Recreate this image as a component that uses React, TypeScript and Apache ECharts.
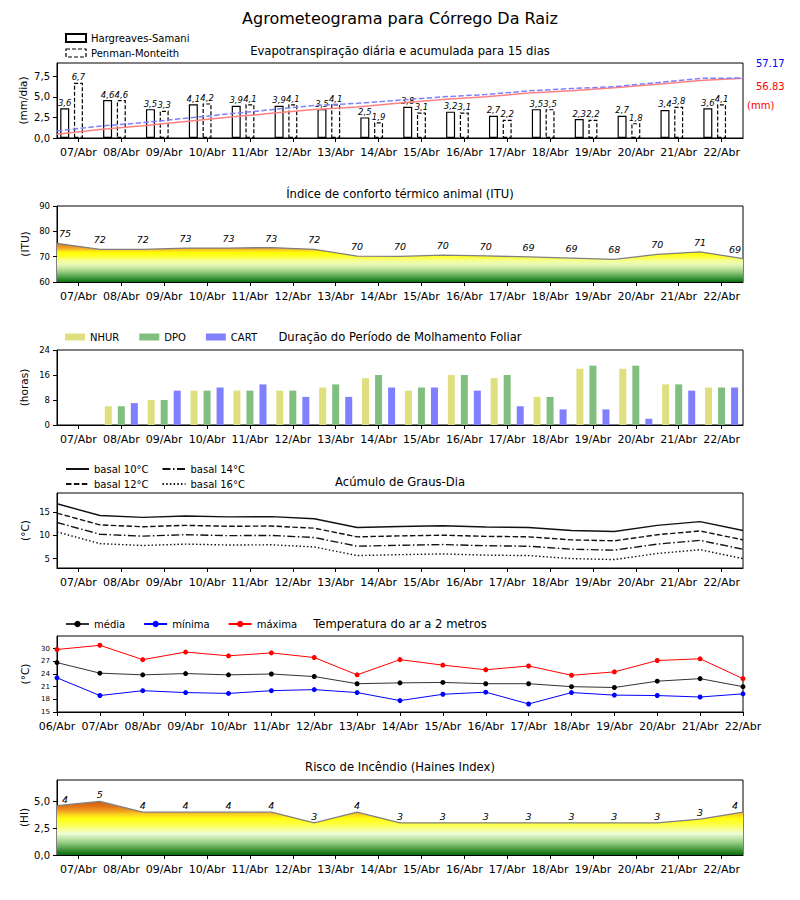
import React, { useEffect, useRef } from 'react';
import * as echarts from 'echarts';

// ---------- data ----------
const DAYS = ['07/Abr', '08/Abr', '09/Abr', '10/Abr', '11/Abr', '12/Abr', '13/Abr', '14/Abr', '15/Abr', '16/Abr', '17/Abr', '18/Abr', '19/Abr', '20/Abr', '21/Abr', '22/Abr'];
const DAYS_TEMP = ['06/Abr', '07/Abr', '08/Abr', '09/Abr', '10/Abr', '11/Abr', '12/Abr', '13/Abr', '14/Abr', '15/Abr', '16/Abr', '17/Abr', '18/Abr', '19/Abr', '20/Abr', '21/Abr', '22/Abr'];

const ET_HS = [3.6, 4.6, 3.5, 4.1, 3.9, 3.9, 3.5, 2.5, 3.8, 3.2, 2.7, 3.5, 2.3, 2.7, 3.4, 3.6];
const ET_PM = [6.7, 4.6, 3.3, 4.2, 4.1, 4.1, 4.1, 1.9, 3.1, 3.1, 2.2, 3.5, 2.2, 1.8, 3.8, 4.1];
const ET_HS_ACC = [3.6, 8.2, 11.7, 15.8, 19.7, 23.6, 27.1, 29.6, 33.4, 36.6, 39.3, 42.8, 45.1, 47.8, 51.2, 54.8, 56.83];
const ET_PM_ACC = [6.7, 11.3, 14.6, 18.8, 22.9, 27.0, 31.1, 33.0, 36.1, 39.2, 41.4, 44.9, 47.1, 48.9, 52.7, 56.8, 57.17];
const ET_PM_TOTAL = '57.17';
const ET_HS_TOTAL = '56.83';

const ITU = [75.2, 72.9, 72.9, 73.4, 73.4, 73.6, 72.9, 70.2, 70.1, 70.6, 70.3, 69.9, 69.4, 68.9, 70.9, 71.9, 69.2];

const NHUR = [0, 6, 8, 11, 11, 11, 12, 15, 11, 16, 15, 9, 18, 18, 13, 12];
const DPO = [0, 6, 8, 11, 11, 11, 13, 16, 12, 16, 16, 9, 19, 19, 13, 12];
const CART = [0, 7, 11, 12, 13, 9, 9, 12, 12, 11, 6, 5, 5, 2, 11, 12];

const GD10 = [16.7, 14.2, 13.8, 14.1, 13.9, 13.95, 13.5, 11.65, 11.85, 12.0, 11.75, 11.65, 11.0, 10.8, 12.1, 12.9, 11.0];
const GD12 = [14.7, 12.2, 11.8, 12.1, 11.9, 11.95, 11.5, 9.65, 9.85, 10.0, 9.75, 9.65, 9.0, 8.8, 10.1, 10.9, 9.0];
const GD14 = [12.7, 10.2, 9.8, 10.1, 9.9, 9.95, 9.5, 7.65, 7.85, 8.0, 7.75, 7.65, 7.0, 6.8, 8.1, 8.9, 7.0];
const GD16 = [10.7, 8.2, 7.8, 8.1, 7.9, 7.95, 7.5, 5.65, 5.85, 6.0, 5.75, 5.65, 5.0, 4.8, 6.1, 6.9, 5.0];

const T_MED = [26.7, 24.2, 23.8, 24.1, 23.8, 24.0, 23.4, 21.7, 21.9, 22.0, 21.7, 21.7, 21.0, 20.8, 22.3, 22.9, 21.0];
const T_MIN = [23.1, 18.9, 20.05, 19.6, 19.4, 20.05, 20.3, 19.6, 17.7, 19.2, 19.7, 16.9, 19.6, 19.0, 18.9, 18.55, 19.3];
const T_MAX = [29.8, 30.8, 27.4, 29.2, 28.3, 29.0, 27.9, 23.8, 27.4, 26.1, 25.0, 25.9, 23.7, 24.5, 27.2, 27.6, 22.9];

const HAINES = [4.6, 5.0, 4.0, 4.0, 4.0, 4.0, 3.0, 4.0, 3.0, 3.0, 3.0, 3.0, 3.0, 3.0, 3.0, 3.35, 4.0];

const TICKS_ET = [0, 2.5, 5, 7.5];
const TICKS_ITU = [60, 70, 80, 90];
const TICKS_MOLH = [0, 8, 16, 24];
const TICKS_GD = [5, 10, 15];
const TICKS_T = [15, 18, 21, 24, 27, 30];
const TICKS_HI = [0, 2.5, 5];

// ---------- style ----------
const FONT = 'DejaVu Sans';
const GRIDS = [
  { top: 63, height: 75 },
  { top: 206, height: 76 },
  { top: 350, height: 75 },
  { top: 493, height: 75 },
  { top: 636, height: 76 },
  { top: 780, height: 75 },
];
const ITU_COLORS: [number, string][] = [
  [75, '#e07818'], [74, '#ee9420'], [73, '#f8b428'], [72.4, '#fcd820'], [71.6, '#ffff00'],
  [70, '#ffff30'], [68.5, '#f4ff90'], [67, '#e8fab8'], [65.5, '#c6e6a0'], [64, '#98cc80'],
  [62.5, '#60aa58'], [61, '#2e8a30'], [60, '#0c6a0c'],
];
const HI_COLORS: [number, string][] = [
  [5, '#d05a10'], [4.5, '#e27818'], [4.1, '#f0a020'], [3.8, '#fbd020'], [3.4, '#ffff10'],
  [2.9, '#ffff40'], [2.4, '#f8ff90'], [2.0, '#eeffd8'], [1.6, '#c8e8b0'], [1.1, '#90c880'],
  [0.6, '#50a048'], [0, '#0a6a0a'],
];
const PM_DASH = [4, 2];

const comma1 = (v: number) => v.toFixed(1).replace('.', ',');

function valueGradient(values: number[], base: number, stops: [number, string][]) {
  const top = Math.max(...values);
  const span = top - base;
  const cs = stops.map(([v, c]) => ({ offset: Math.min(1, Math.max(0, (top - v) / span)), color: c }));
  cs.sort((a, b) => a.offset - b.offset);
  return new echarts.graphic.LinearGradient(0, 0, 0, 1, cs);
}

function halfStep(arr: number[], labelShift = false) {
  return arr.map((v, i) => {
    const item: any = { value: [i - 0.5, v] };
    if (labelShift && i === 0) item.label = { offset: [8, 0] };
    if (labelShift && i === arr.length - 1) item.label = { offset: [-8, 0] };
    return item;
  });
}

function catAxis(gridIndex: number, data: string[], boundaryGap = true) {
  return {
    type: 'category', gridIndex, data, boundaryGap,
    axisLine: { show: true, onZero: false, lineStyle: { color: '#000', width: 1 } },
    axisTick: { show: true, interval: 0, alignWithLabel: true, length: 4, lineStyle: { color: '#000' } },
    axisLabel: { interval: 0, fontSize: 11, color: '#000', fontFamily: FONT, margin: 9 },
    splitLine: { show: false },
  };
}
function hiddenX(gridIndex: number) {
  return { type: 'value', gridIndex, min: -0.5, max: 15.5, show: false, splitLine: { show: false } };
}
function valAxis(gridIndex: number, min: number, max: number, ticks: number[], name: string, nameGap: number, fontSize: number, fmt?: (v: number) => string) {
  return {
    type: 'value', gridIndex, min, max,
    name, nameLocation: 'middle', nameGap, nameMoveOverlap: false,
    nameTextStyle: { fontSize: 10.5, color: '#000', fontFamily: FONT },
    axisLine: { show: true, onZero: false, lineStyle: { color: '#000' } },
    axisTick: { show: true, length: 4, customValues: ticks, lineStyle: { color: '#000' } },
    axisLabel: { customValues: ticks, fontSize, color: '#000', fontFamily: FONT, margin: 7, formatter: fmt ? (v: number) => fmt(v) : undefined },
    splitLine: { show: false },
  };
}

const title = (text: string, y: number, size: number) => ({
  type: 'text', x: 400, y,
  style: { text, fontSize: size, fontFamily: FONT, fill: '#000', textAlign: 'center', textVerticalAlign: 'middle', align: 'center', verticalAlign: 'middle' },
});
const note = (text: string, x: number, y: number, fill: string) => ({
  type: 'text', x, y,
  style: { text, fontSize: 10, fontFamily: FONT, fill, textAlign: 'left', textVerticalAlign: 'middle', align: 'left', verticalAlign: 'middle' },
});

const legendText = { fontSize: 10, color: '#000', fontFamily: FONT };

function buildOption() {
  const barLabel = {
    show: true, position: 'top', distance: 1, fontSize: 8.5, fontStyle: 'italic', color: '#000', fontFamily: FONT,
    formatter: (p: any) => comma1(p.value[1]),
  };
  const areaLabel = {
    show: true, position: 'top', distance: 3, fontSize: 9.5, fontStyle: 'italic', color: '#000', fontFamily: FONT,
    formatter: (p: any) => String(Math.floor(p.value[1])),
  };
  const gdLine = (name: string, data: number[], type: any) => ({
    name, type: 'line', xAxisIndex: 6, yAxisIndex: 4, data: halfStep(data), symbol: 'none',
    lineStyle: { color: '#111', width: 1.4, type }, itemStyle: { color: '#111' },
  });
  const tLine = (name: string, data: number[], color: string, lineColor: string) => ({
    name, type: 'line', xAxisIndex: 7, yAxisIndex: 5, data, symbol: 'circle', symbolSize: 5,
    lineStyle: { color: lineColor, width: 1 }, itemStyle: { color },
  });
  const molhBar = (name: string, data: number[], color: string) => ({
    name, type: 'bar', xAxisIndex: 4, yAxisIndex: 3, data, barWidth: 7, barGap: '86%', itemStyle: { color },
  });
  const areaSeries = (name: string, data: number[], xi: number, yi: number, base: number, stops: [number, string][], dist: number) => ({
    name, type: 'line', xAxisIndex: xi, yAxisIndex: yi, data: halfStep(data, true),
    symbol: 'circle', symbolSize: 1, showSymbol: true, itemStyle: { color: 'rgba(0,0,0,0)' },
    lineStyle: { color: '#808080', width: 1.3 },
    areaStyle: { origin: 'start', opacity: 1, color: valueGradient(data, base, stops) },
    label: { ...areaLabel, distance: dist },
  });

  return {
    animation: false,
    backgroundColor: '#fff',
    textStyle: { fontFamily: FONT },
    grid: GRIDS.map(g => ({ left: 57, width: 686, top: g.top, height: g.height, show: true, borderColor: '#000', borderWidth: 1, backgroundColor: 'transparent' })),
    xAxis: [
      catAxis(0, DAYS), hiddenX(0),
      catAxis(1, DAYS), hiddenX(1),
      catAxis(2, DAYS),
      catAxis(3, DAYS), hiddenX(3),
      catAxis(4, DAYS_TEMP, false),
      catAxis(5, DAYS), hiddenX(5),
    ],
    yAxis: [
      valAxis(0, 0, 9.1, TICKS_ET, '(mm/dia)', 29, 10, comma1),
      { type: 'value', gridIndex: 0, min: 0, max: 71.46, show: false, position: 'right', splitLine: { show: false } },
      valAxis(1, 60, 90, TICKS_ITU, '(ITU)', 27, 8.5),
      valAxis(2, 0, 24, TICKS_MOLH, '(horas)', 28, 8.5),
      valAxis(3, 3, 19, TICKS_GD, '(°C)', 27, 8.5),
      valAxis(4, 15, 33, TICKS_T, '(°C)', 27, 7),
      valAxis(5, 0, 7, TICKS_HI, '(HI)', 28, 10, comma1),
    ],
    legend: [
      {
        data: [
          { name: 'Hargreaves-Samani' },
          { name: 'Penman-Monteith', itemStyle: { borderType: PM_DASH, borderColor: '#000', borderWidth: 1.2, color: '#fff' } },
        ],
        orient: 'vertical', left: 65, top: 33, itemWidth: 20, itemHeight: 8, itemGap: 5, icon: 'rect', selectedMode: false, textStyle: legendText, padding: 0,
      },
      { data: ['NHUR', 'DPO', 'CART'], left: 65, top: 332, itemWidth: 20, itemHeight: 7, itemGap: 20, icon: 'rect', selectedMode: false, textStyle: legendText, padding: 0 },
      { data: ['basal 10°C', 'basal 14°C'], left: 65, top: 464, itemWidth: 23, itemHeight: 10, itemGap: 13, selectedMode: false, textStyle: legendText, padding: 0, itemStyle: { opacity: 0 } },
      { data: ['basal 12°C', 'basal 16°C'], left: 65, top: 479, itemWidth: 23, itemHeight: 10, itemGap: 13, selectedMode: false, textStyle: legendText, padding: 0, itemStyle: { opacity: 0 } },
      { data: ['média', 'mínima', 'máxima'], left: 65, top: 619, itemWidth: 23, itemHeight: 8, itemGap: 18, selectedMode: false, textStyle: legendText, padding: 0 },
    ],
    graphic: [
      title('Agrometeograma para Córrego Da Raiz', 18, 16),
      title('Evapotranspiração diária e acumulada para 15 dias', 51, 11.6),
      title('Índice de conforto térmico animal (ITU)', 194, 11.6),
      title('Duração do Período de Molhamento Foliar', 337, 11.6),
      title('Acúmulo de Graus-Dia', 482, 11.6),
      title('Temperatura do ar a 2 metros', 624, 11.6),
      title('Risco de Incêndio (Haines Index)', 767, 11.6),
      note(ET_PM_TOTAL, 756, 63, '#0000ff'),
      note(ET_HS_TOTAL, 756, 86, '#ff0000'),
      note('(mm)', 747, 105, '#ff0000'),
    ],
    series: [
      {
        name: 'Hargreaves-Samani', type: 'bar', xAxisIndex: 1, yAxisIndex: 0,
        data: ET_HS.map((v, i) => [i - 0.32, v]), barWidth: 9, barGap: '-100%',
        itemStyle: { color: '#fff', borderColor: '#000', borderWidth: 1.2 }, label: barLabel,
      },
      {
        name: 'Penman-Monteith', type: 'bar', xAxisIndex: 1, yAxisIndex: 0,
        data: ET_PM.map((v, i) => [i, v]), barWidth: 9, barGap: '-100%',
        itemStyle: { color: '#fff', borderColor: '#000', borderWidth: 1.2, borderType: PM_DASH }, label: barLabel,
      },
      {
        name: 'acum HS', type: 'line', xAxisIndex: 1, yAxisIndex: 1, data: halfStep(ET_HS_ACC), symbol: 'none', z: 5,
        lineStyle: { color: '#ff8080', width: 1.5 },
      },
      {
        name: 'acum PM', type: 'line', xAxisIndex: 1, yAxisIndex: 1, data: halfStep(ET_PM_ACC), symbol: 'none', z: 5,
        lineStyle: { color: '#8080ff', width: 1.5, type: [5.5, 2.4] },
      },
      areaSeries('ITU', ITU, 3, 2, 60, ITU_COLORS, 4),
      molhBar('NHUR', NHUR, '#dfdf80'),
      molhBar('DPO', DPO, '#80bf80'),
      molhBar('CART', CART, '#8080ff'),
      gdLine('basal 10°C', GD10, 'solid'),
      gdLine('basal 12°C', GD12, [5.5, 2.4]),
      gdLine('basal 14°C', GD14, [8, 2.5, 1.5, 2.5]),
      gdLine('basal 16°C', GD16, [1.5, 2.2]),
      tLine('média', T_MED, '#000', '#333'),
      tLine('mínima', T_MIN, '#0000ff', '#0000ff'),
      tLine('máxima', T_MAX, '#ff0000', '#ff0000'),
      areaSeries('Haines', HAINES, 9, 6, 0, HI_COLORS, 1),
    ],
  };
}

export default function App() {
  const ref = useRef<HTMLDivElement>(null);
  useEffect(() => {
    if (!ref.current) return;
    const chart = echarts.init(ref.current, null, { renderer: 'svg' });
    chart.setOption(buildOption() as any);
    return () => chart.dispose();
  }, []);
  return <div ref={ref} style={{ position: 'absolute', left: 0, top: 0, width: 800, height: 900, background: '#fff' }} />;
}
